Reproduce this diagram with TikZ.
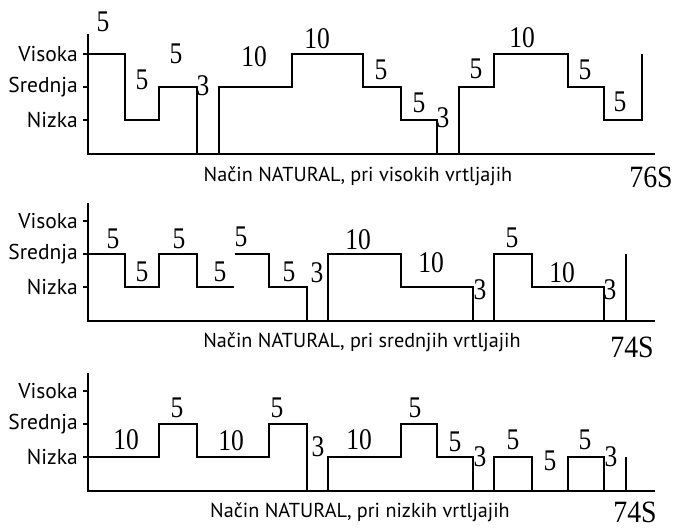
\documentclass[tikz,border=0pt]{standalone}
\usepackage{fontspec}
\setmainfont{PT Sans}
\newfontfamily\digitfont{Liberation Serif}
\usepackage{tikz}
\usetikzlibrary{arrows.meta}
\tikzset{
  trace/.style={line width=1.4pt, line join=miter},
  lvl/.style={anchor=east, inner sep=0pt, font=\fontsize{21.5}{23}\selectfont},
  num/.style={inner sep=0pt, xscale=0.85, font=\digitfont\fontsize{30}{32}\selectfont},
  total/.style={inner sep=0pt, xscale=0.9, font=\digitfont\fontsize{31}{33}\selectfont},
  capt/.style={inner sep=0pt, font=\fontsize{20.2}{22}\selectfont}
}

\begin{document}
\begin{tikzpicture}[x=1pt, y=1pt]
\useasboundingbox (0,0) rectangle (679,-529);

% visoki vrtljaji
\begin{scope}[shift={(0,-154)}]
\draw[trace] (88,120) -- (88,0) -- (655,0);
\draw[trace] (83,100) -- (88,100) (83,67) -- (88,67) (83,34) -- (88,34);
\node[lvl] (v1) at (78,100) {Visoka};
\node[lvl] (s1) at (78,67) {Srednja};
\node[lvl] (n1) at (78,34) {Nizka};
\draw[trace] (88,100) -- (125,100) -- (125,34) -- (159,34) -- (159,67) -- (197,67) -- (197,0);
\draw[trace] (219,0) -- (219,67) -- (292,67) -- (292,100) -- (363,100) -- (363,67) -- (401,67) -- (401,34) -- (437,34) -- (437,0);
\draw[trace] (459,0) -- (459,67) -- (494,67) -- (494,100) -- (568,100) -- (568,67) -- (604,67) -- (604,34) -- (642,34) -- (642,100);
\node[num] (a1) at (103,132) {5};
\node[num] (a2) at (142,74) {5};
\node[num] (a3) at (176,100) {5};
\node[num] (a4) at (203,68) {3};
\node[num] (a5) at (254,97) {10};
\node[num] (a6) at (317,115) {10};
\node[num] (a7) at (381,84) {5};
\node[num] (a8) at (419,51) {5};
\node[num] (a9) at (443,36) {3};
\node[num] (a10) at (476,85) {5};
\node[num] (a11) at (522,116) {10};
\node[num] (a12) at (585,84) {5};
\node[num] (a13) at (620,52) {5};
\node[capt] (c1) at (358,-22) {Način NATURAL, pri visokih vrtljajih};
\node[total] (t1) at (651,-23) {76S};
\end{scope}

% srednji vrtljaji
\begin{scope}[shift={(0,-321)}]
\draw[trace] (88,118) -- (88,0) -- (655,0);
\draw[trace] (83,100) -- (88,100) (83,67) -- (88,67) (83,34) -- (88,34);
\node[lvl] (v2) at (78,100) {Visoka};
\node[lvl] (s2) at (78,67) {Srednja};
\node[lvl] (n2) at (78,34) {Nizka};
\draw[trace] (88,67) -- (125,67) -- (125,34) -- (159,34) -- (159,67) -- (197,67) -- (197,34) -- (234,34);
\draw[trace] (235,67) -- (269,67) -- (269,34) -- (307,34) -- (307,0);
\draw[trace] (328,0) -- (328,67) -- (401,67) -- (401,34) -- (473,34) -- (473,0);
\draw[trace] (494,0) -- (494,67) -- (532,67) -- (532,34) -- (604,34) -- (604,0);
\draw[trace] (626,0) -- (626,67);
\node[num] (b1) at (113,82) {5};
\node[num] (b2) at (142,49) {5};
\node[num] (b3) at (179,82) {5};
\node[num] (b4) at (220,49) {5};
\node[num] (b5) at (241,84) {5};
\node[num] (b6) at (289,49) {5};
\node[num] (b7) at (317,48) {3};
\node[num] (b8) at (358,81) {10};
\node[num] (b9) at (431,58) {10};
\node[num] (b10) at (480,31) {3};
\node[num] (b11) at (512,83) {5};
\node[num] (b12) at (562,48) {10};
\node[num] (b13) at (610,31) {3};
\node[capt] (c2) at (362,-21) {Način NATURAL, pri srednjih vrtljajih};
\node[total] (t2) at (632,-26) {74S};
\end{scope}

% nizki vrtljaji
\begin{scope}[shift={(0,-491)}]
\draw[trace] (88,118) -- (88,0) -- (655,0);
\draw[trace] (83,100) -- (88,100) (83,67) -- (88,67) (83,34) -- (88,34);
\node[lvl] (v3) at (78,100) {Visoka};
\node[lvl] (s3) at (78,67) {Srednja};
\node[lvl] (n3) at (78,34) {Nizka};
\draw[trace] (88,34) -- (159,34) -- (159,67) -- (197,67) -- (197,34) -- (269,34) -- (269,67) -- (307,67) -- (307,0);
\draw[trace] (328,0) -- (328,34) -- (401,34) -- (401,67) -- (437,67) -- (437,34) -- (473,34) -- (473,0);
\draw[trace] (494,0) -- (494,34) -- (532,34) -- (532,0);
\draw[trace] (568,0) -- (568,34) -- (604,34) -- (604,0);
\draw[trace] (626,0) -- (626,34);
\node[num] (d1) at (126,51) {10};
\node[num] (d2) at (177,83) {5};
\node[num] (d3) at (231,50) {10};
\node[num] (d4) at (277,83) {5};
\node[num] (d5) at (318,44) {3};
\node[num] (d6) at (359,51) {10};
\node[num] (d7) at (415,83) {5};
\node[num] (d8) at (455,49) {5};
\node[num] (d9) at (480,34) {3};
\node[num] (d10) at (513,51) {5};
\node[num] (d11) at (550,30) {5};
\node[num] (d12) at (585,51) {5};
\node[num] (d13) at (611,34) {3};
\node[capt] (c3) at (360,-21) {Način NATURAL, pri nizkih vrtljajih};
\node[total] (t3) at (635,-21) {74S};
\end{scope}
\end{tikzpicture}
\end{document}
